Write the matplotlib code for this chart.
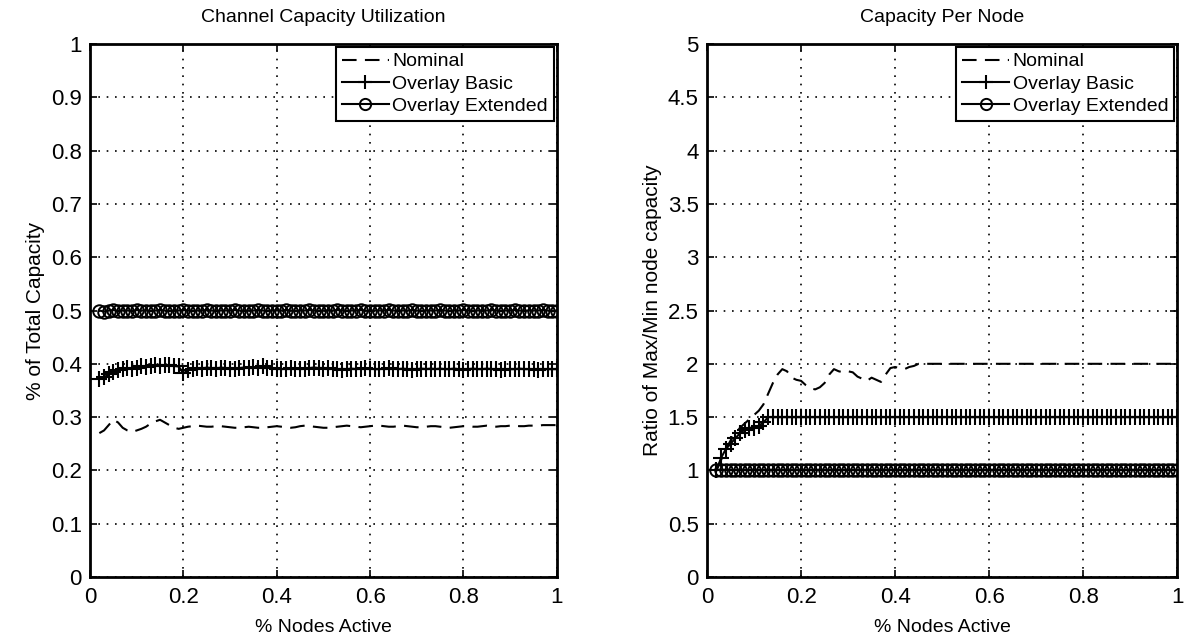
import numpy as np
import matplotlib
matplotlib.use('Agg')
import matplotlib.pyplot as plt

plt.rcParams['font.family'] = ['Liberation Sans', 'DejaVu Sans']

# fraction of nodes active (x axis), 0.02 .. 1.00
x = np.round(np.arange(2, 101) / 100.0, 2)

# left panel: % of total capacity
util_nominal = [0.270, 0.275, 0.285, 0.295, 0.290, 0.280, 0.275, 0.272, 0.275, 0.278,
                0.282, 0.288, 0.292, 0.295, 0.290, 0.285, 0.280, 0.278, 0.280, 0.282,
                0.283, 0.284, 0.283, 0.282, 0.282, 0.283, 0.283, 0.282, 0.281, 0.280,
                0.280, 0.281, 0.282, 0.281, 0.280, 0.280, 0.281, 0.282, 0.283, 0.282,
                0.281, 0.280, 0.281, 0.283, 0.284, 0.283, 0.282, 0.281, 0.280, 0.280,
                0.281, 0.282, 0.283, 0.284, 0.283, 0.282, 0.281, 0.282, 0.283, 0.284,
                0.284, 0.283, 0.282, 0.282, 0.283, 0.284, 0.283, 0.282, 0.281, 0.281,
                0.282, 0.283, 0.283, 0.282, 0.281, 0.280, 0.281, 0.282, 0.283, 0.283,
                0.282, 0.282, 0.283, 0.284, 0.283, 0.282, 0.283, 0.283, 0.284, 0.284,
                0.283, 0.283, 0.284, 0.284, 0.284, 0.285, 0.285, 0.285, 0.285]
util_basic = [0.372, 0.375, 0.380, 0.385, 0.388, 0.390, 0.392, 0.390, 0.393, 0.395,
              0.394, 0.396, 0.397, 0.396, 0.398, 0.397, 0.396, 0.395, 0.382, 0.388,
              0.390, 0.392, 0.391, 0.393, 0.392, 0.391, 0.393, 0.392, 0.390, 0.391,
              0.392, 0.393, 0.392, 0.394, 0.393, 0.395, 0.393, 0.392, 0.391, 0.390,
              0.391, 0.392, 0.391, 0.390, 0.391, 0.392, 0.393, 0.392, 0.391, 0.392,
              0.391, 0.390, 0.389, 0.390, 0.391, 0.390, 0.391, 0.392, 0.391, 0.390,
              0.390, 0.391, 0.392, 0.391, 0.390, 0.391, 0.390, 0.389, 0.390, 0.391,
              0.390, 0.391, 0.390, 0.391, 0.390, 0.390, 0.391, 0.390, 0.389, 0.390,
              0.391, 0.390, 0.390, 0.391, 0.390, 0.390, 0.389, 0.390, 0.390, 0.390,
              0.391, 0.390, 0.390, 0.390, 0.389, 0.390, 0.390, 0.390, 0.390]
util_extended = [0.500, 0.498, 0.500, 0.501, 0.499, 0.500, 0.500, 0.499, 0.501, 0.500,
                 0.500, 0.499, 0.500, 0.501, 0.500, 0.499, 0.500, 0.500, 0.501, 0.500,
                 0.499, 0.500, 0.500, 0.501, 0.500, 0.499, 0.500, 0.500, 0.500, 0.501,
                 0.500, 0.499, 0.500, 0.500, 0.501, 0.500, 0.499, 0.500, 0.500, 0.500,
                 0.501, 0.500, 0.499, 0.500, 0.500, 0.501, 0.500, 0.499, 0.500, 0.500,
                 0.500, 0.501, 0.500, 0.499, 0.500, 0.500, 0.501, 0.500, 0.499, 0.500,
                 0.500, 0.500, 0.501, 0.500, 0.499, 0.500, 0.500, 0.501, 0.500, 0.499,
                 0.500, 0.500, 0.500, 0.501, 0.500, 0.499, 0.500, 0.500, 0.501, 0.500,
                 0.499, 0.500, 0.500, 0.500, 0.501, 0.500, 0.499, 0.500, 0.500, 0.501,
                 0.500, 0.499, 0.500, 0.500, 0.500, 0.501, 0.500, 0.499, 0.500]

# right panel: ratio of max/min node capacity
ratio_nominal = [1.00, 1.10, 1.20, 1.28, 1.34, 1.40, 1.44, 1.48, 1.52, 1.56,
                 1.62, 1.72, 1.82, 1.90, 1.95, 1.93, 1.87, 1.85, 1.84, 1.80,
                 1.77, 1.76, 1.78, 1.82, 1.90, 1.95, 1.93, 1.92, 1.93, 1.92,
                 1.88, 1.86, 1.84, 1.87, 1.85, 1.83, 1.90, 1.96, 1.97, 1.96,
                 1.95, 1.97, 1.98, 2.00, 2.00, 2.00, 2.00, 2.00, 2.00, 2.00,
                 2.00, 2.00, 2.00, 2.00, 2.00, 2.00, 2.00, 2.00, 2.00, 2.00,
                 2.00, 2.00, 2.00, 2.00, 2.00, 2.00, 2.00, 2.00, 2.00, 2.00,
                 2.00, 2.00, 2.00, 2.00, 2.00, 2.00, 2.00, 2.00, 2.00, 2.00,
                 2.00, 2.00, 2.00, 2.00, 2.00, 2.00, 2.00, 2.00, 2.00, 2.00,
                 2.00, 2.00, 2.00, 2.00, 2.00, 2.00, 2.00, 2.00, 2.00]
ratio_basic = [1.00, 1.12, 1.20, 1.25, 1.30, 1.35, 1.38, 1.40, 1.40, 1.42,
               1.45, 1.50, 1.50, 1.50, 1.50, 1.50, 1.50, 1.50, 1.50, 1.50,
               1.50, 1.50, 1.50, 1.50, 1.50, 1.50, 1.50, 1.50, 1.50, 1.50,
               1.50, 1.50, 1.50, 1.50, 1.50, 1.50, 1.50, 1.50, 1.50, 1.50,
               1.50, 1.50, 1.50, 1.50, 1.50, 1.50, 1.50, 1.50, 1.50, 1.50,
               1.50, 1.50, 1.50, 1.50, 1.50, 1.50, 1.50, 1.50, 1.50, 1.50,
               1.50, 1.50, 1.50, 1.50, 1.50, 1.50, 1.50, 1.50, 1.50, 1.50,
               1.50, 1.50, 1.50, 1.50, 1.50, 1.50, 1.50, 1.50, 1.50, 1.50,
               1.50, 1.50, 1.50, 1.50, 1.50, 1.50, 1.50, 1.50, 1.50, 1.50,
               1.50, 1.50, 1.50, 1.50, 1.50, 1.50, 1.50, 1.50, 1.50]
ratio_extended = [1.00, 1.00, 1.00, 1.00, 1.00, 1.00, 1.00, 1.00, 1.00, 1.00,
                  1.00, 1.00, 1.00, 1.00, 1.00, 1.00, 1.00, 1.00, 1.00, 1.00,
                  1.00, 1.00, 1.00, 1.00, 1.00, 1.00, 1.00, 1.00, 1.00, 1.00,
                  1.00, 1.00, 1.00, 1.00, 1.00, 1.00, 1.00, 1.00, 1.00, 1.00,
                  1.00, 1.00, 1.00, 1.00, 1.00, 1.00, 1.00, 1.00, 1.00, 1.00,
                  1.00, 1.00, 1.00, 1.00, 1.00, 1.00, 1.00, 1.00, 1.00, 1.00,
                  1.00, 1.00, 1.00, 1.00, 1.00, 1.00, 1.00, 1.00, 1.00, 1.00,
                  1.00, 1.00, 1.00, 1.00, 1.00, 1.00, 1.00, 1.00, 1.00, 1.00,
                  1.00, 1.00, 1.00, 1.00, 1.00, 1.00, 1.00, 1.00, 1.00, 1.00,
                  1.00, 1.00, 1.00, 1.00, 1.00, 1.00, 1.00, 1.00, 1.00]

labels = ['Nominal', 'Overlay Basic', 'Overlay Extended']

fig = plt.figure(figsize=(11.97, 6.43), dpi=100)
ax1 = fig.add_axes([0.0752, 0.1026, 0.390, 0.829])
ax2 = fig.add_axes([0.5907, 0.1026, 0.3927, 0.829])


def style(ax, ymax, ystep):
    ax.set_xlim(0, 1)
    ax.set_ylim(0, ymax)
    ax.set_xticks([0, 0.2, 0.4, 0.6, 0.8, 1])
    ax.set_xticklabels(['0', '0.2', '0.4', '0.6', '0.8', '1'])
    yt = np.arange(0, ymax + ystep / 2, ystep)
    ax.set_yticks(yt)
    ax.set_yticklabels(['%g' % v for v in yt])
    ax.grid(True, color='black', linestyle=(0, (1, 4)), linewidth=1.2)
    ax.tick_params(direction='in', top=True, right=True, labelsize=16, length=5, width=1.2)
    ax.tick_params(axis='x', pad=7)
    ax.tick_params(axis='y', pad=6)
    for s in ax.spines.values():
        s.set_linewidth(2)
    ax.set_xlabel('% Nodes Active', fontsize=14, labelpad=8)


dash = (0, (7, 4))
ax1.plot(x, util_nominal, 'k', ls=dash, lw=1.5, label=labels[0])
ax1.plot(x, util_basic, 'k-', marker='+', ms=11, mew=1.5, lw=1.5, label=labels[1])
ax1.plot(x, util_extended, 'k-', marker='o', ms=9, mfc='none', mew=1.4, lw=1.5, label=labels[2])
style(ax1, 1, 0.1)
ax1.set_ylabel('% of Total Capacity', fontsize=15)
ax1.set_title('Channel Capacity Utilization', fontsize=14, pad=16)

ax2.plot(x, ratio_nominal, 'k', ls=dash, lw=1.5, label=labels[0])
ax2.plot(x, ratio_basic, 'k-', marker='+', ms=11, mew=1.5, lw=1.5, label=labels[1])
ax2.plot(x, ratio_extended, 'k-', marker='o', ms=9, mfc='none', mew=1.4, lw=1.5, label=labels[2])
style(ax2, 5, 0.5)
ax2.set_ylabel('Ratio of Max/Min node capacity', fontsize=15)
ax2.set_title('Capacity Per Node', fontsize=14, pad=16)

for ax in (ax1, ax2):
    leg = ax.legend(loc='upper right', fontsize=14, fancybox=False, framealpha=1,
                    edgecolor='black', borderaxespad=0.15, handlelength=2.4,
                    handletextpad=0.2, borderpad=0.3, labelspacing=0.25, markerscale=0.9)
    leg.get_frame().set_linewidth(1.5)

fig.savefig('out.png', dpi=100)
